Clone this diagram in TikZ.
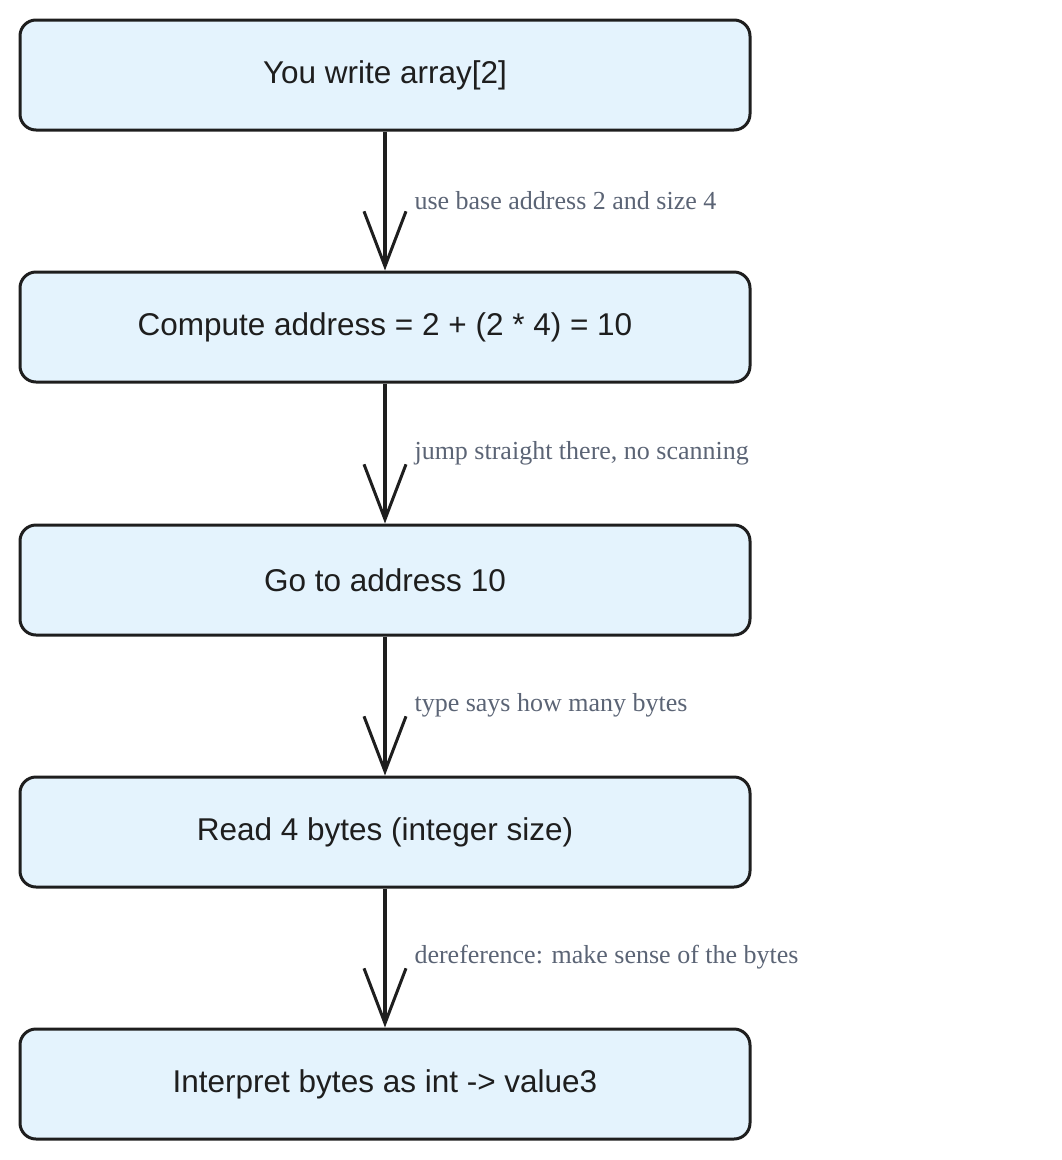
\documentclass[tikz,border=0pt]{standalone}
\usepackage{fontspec}
\setmainfont{Liberation Sans}
\newfontfamily\lblfont{Liberation Serif}
\usetikzlibrary{arrows.meta}
\definecolor{boxfill}{HTML}{E4F3FD}
\definecolor{ink}{HTML}{1E1E1E}
\definecolor{lbl}{HTML}{5B6475}
\begin{document}
\begin{tikzpicture}[x=1pt,y=-1pt,
  box/.style={draw=ink,fill=boxfill,line width=3pt,rounded corners=16pt,minimum width=730pt,minimum height=110pt,font=\fontsize{31.5}{36}\selectfont,text=ink},
  arr/.style={draw=ink,line width=3.5pt,-{Straight Barb[length=55pt,width=42pt,line width=3pt]}},
  lab/.style={anchor=west,font=\lblfont\fontsize{26}{30}\selectfont,text=lbl}]
\useasboundingbox (0,0) rectangle (1061,1160);
\node[box] (a) at (385,75) {You write array[2]};
\node[box] (b) at (385,327) {Compute address = 2 + (2 * 4) = 10};
\node[box] (c) at (385,580) {Go to address 10};
\node[box] (d) at (385,832) {Read 4 bytes (integer size)};
\node[box] (e) at (385,1084) {Interpret bytes as int -> value3};
\draw[arr] (a) -- (b);
\draw[arr] (b) -- (c);
\draw[arr] (c) -- (d);
\draw[arr] (d) -- (e);
\node[lab] (l1) at (411,201) {use base address 2 and size 4};
\node[lab] (l2) at (411,453) {jump straight there, no scanning};
\node[lab] (l3) at (411,705) {type says how many bytes};
\node[lab] (l4) at (411,957) {dereference: make sense of the bytes};
\end{tikzpicture}
\end{document}
